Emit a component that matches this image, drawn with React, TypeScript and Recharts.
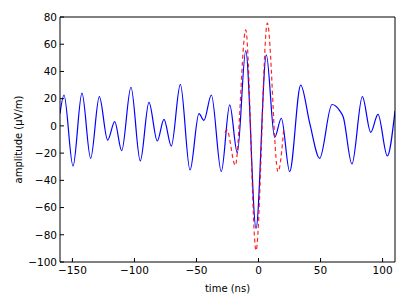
import { Label, Line, LineChart, XAxis, YAxis } from "recharts";

// blue trace: turning points (time in ns, amplitude in µV/m)
const blueTime = [
  -160, -156.8, -149.5, -142.3, -135.3, -128.3, -121.6, -115.9, -110.3, -102.8,
  -95.3, -88.3, -81.6, -76.2, -70.3, -63, -55.2, -48, -44, -38,
  -30, -23.2, -17.1, -10.3, -2, 6.3, 13, 18.4, 25.1, 34,
  41.3, 49.3, 59.2, 65.4, 68.3, 75.3, 83.7, 90.4, 96.3, 103.8, 110
];
const blueAmp = [
  9, 22.7, -29.5, 24, -23.8, 21.5, -10.4, 3.1, -18.2, 28.4,
  -25.8, 17.3, -11.1, 4.8, -14.8, 30.5, -32.4, 9, 4, 22.7,
  -33.6, 15.4, -19.7, 55.3, -75.2, 52.1, -8.4, 5.6, -33.6, 30,
  1.9, -23.8, 15.7, 11.2, 6.5, -28, 21.5, -4.7, 8.5, -22.1, 11
];

// red dashed trace
const redTime = [-27, -25.5, -18.7, -10.3, -2, 7.1, 15.7, 20.5];
const redAmp = [-5, -3, -29, 70.5, -91.5, 75.5, -33.6, -1];

const xTicks = [-150, -100, -50, 0, 50, 100];
const yTicks = [-100, -80, -60, -40, -20, 0, 20, 40, 60, 80];

const blueData = blueTime.map((t, i) => ({ t, amp: blueAmp[i] }));
const redData = redTime.map((t, i) => ({ t, amp: redAmp[i] }));

const fmt = (v: number) => (v < 0 ? "\u2212" + Math.abs(v) : String(v));
const font = "DejaVu Sans";
const tickStyle = { fill: "#000", fontSize: 10.5, fontFamily: font };

export default function App() {
  return (
    <div style={{ width: 399, height: 297 }}>
      <LineChart
        width={399}
        height={297}
        margin={{ top: 8, right: 11, bottom: 0, left: 0 }}
        style={{ fontFamily: font }}
      >
        <XAxis
          xAxisId="bottom"
          dataKey="t"
          type="number"
          domain={[-160, 110]}
          ticks={xTicks}
          allowDataOverflow
          height={43}
          tickSize={-4}
          tickMargin={9}
          tickFormatter={fmt}
          tick={tickStyle}
          stroke="#000"
        >
          <Label value="time (ns)" position="insideBottom" offset={13} fill="#000" fontSize={10} fontFamily={font} />
        </XAxis>
        <XAxis
          xAxisId="top"
          orientation="top"
          dataKey="t"
          type="number"
          domain={[-160, 110]}
          ticks={xTicks}
          height={1}
          tickSize={-4}
          tick={false}
          stroke="#000"
        />
        <YAxis
          yAxisId="left"
          type="number"
          domain={[-100, 80]}
          ticks={yTicks}
          allowDataOverflow
          width={52}
          tickSize={-4}
          tickMargin={7}
          tickFormatter={fmt}
          tick={tickStyle}
          stroke="#000"
        >
          <Label
            value="amplitude (μV/m)"
            angle={-90}
            position="insideLeft"
            offset={10}
            textAnchor="middle"
            fill="#000"
            fontSize={10}
            fontFamily={font}
          />
        </YAxis>
        <YAxis
          yAxisId="right"
          orientation="right"
          type="number"
          domain={[-100, 80]}
          ticks={yTicks}
          width={1}
          tickSize={-4}
          tick={false}
          stroke="#000"
        />
        <Line
          xAxisId="bottom"
          yAxisId="left"
          data={blueData}
          dataKey="amp"
          type="monotone"
          stroke="#0000ff"
          strokeWidth={1.2}
          dot={false}
          isAnimationActive={false}
        />
        <Line
          xAxisId="bottom"
          yAxisId="left"
          data={redData}
          dataKey="amp"
          type="monotone"
          stroke="#ff0000"
          strokeOpacity={0.85}
          strokeWidth={1.2}
          strokeDasharray="4 3"
          dot={false}
          isAnimationActive={false}
        />
      </LineChart>
    </div>
  );
}
